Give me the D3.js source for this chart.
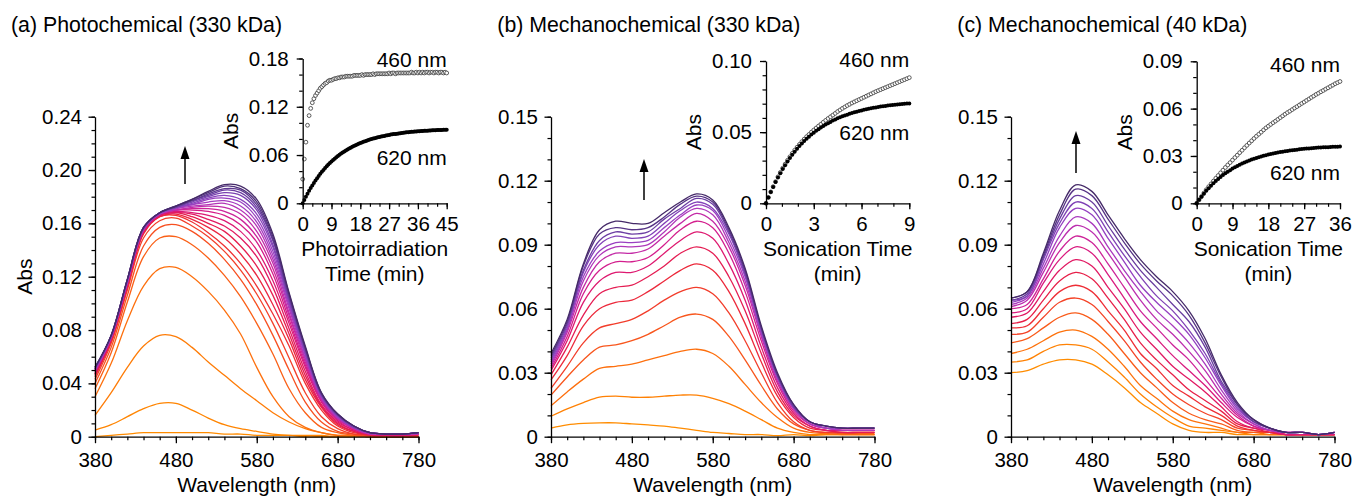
<!DOCTYPE html>
<html>
<head>
<meta charset="utf-8">
<script src="https://cdn.jsdelivr.net/npm/d3@7"></script>
<style>
  body { margin: 0; background: #fff; }
  svg text { font-family: "Liberation Sans", Arial, sans-serif; fill: #000; }
</style>
</head>
<body>
<div id="main"></div>
<script>
// wavelength grid shared by all spectra (nm)
const wavelengths = [380,400,420,440,460,480,500,520,540,560,580,600,620,640,660,680,700,720,740,760,780];

// (a) photochemical, 330 kDa - one row per spectrum, first = earliest
const specA = [
  [0.000,0.001,0.002,0.003,0.003,0.003,0.003,0.003,0.002,0.002,0.001,0.001,0.001,0.000,0.000,0.000,0.001,0.000,0.000,0.000,0.000],
  [0.005,0.009,0.015,0.021,0.025,0.025,0.020,0.014,0.009,0.006,0.004,0.002,0.001,0.001,0.001,0.000,0.000,0.000,0.000,0.000,0.000],
  [0.016,0.033,0.052,0.068,0.076,0.075,0.067,0.056,0.046,0.036,0.027,0.018,0.011,0.006,0.003,0.001,0.001,0.000,0.000,0.000,0.000],
  [0.030,0.055,0.087,0.113,0.126,0.127,0.120,0.109,0.095,0.077,0.052,0.030,0.015,0.007,0.003,0.001,0.001,0.000,0.000,0.000,0.000],
  [0.036,0.063,0.101,0.135,0.149,0.150,0.144,0.134,0.121,0.105,0.085,0.062,0.036,0.018,0.007,0.003,0.001,0.000,0.000,0.000,0.000],
  [0.040,0.067,0.106,0.143,0.157,0.159,0.154,0.145,0.133,0.118,0.099,0.076,0.050,0.026,0.011,0.004,0.002,0.001,0.000,0.000,0.000],
  [0.043,0.070,0.110,0.149,0.162,0.164,0.158,0.150,0.139,0.125,0.107,0.085,0.059,0.033,0.015,0.006,0.002,0.001,0.001,0.000,0.000],
  [0.045,0.072,0.112,0.152,0.165,0.166,0.161,0.153,0.143,0.130,0.113,0.092,0.068,0.040,0.020,0.008,0.003,0.001,0.001,0.001,0.001],
  [0.046,0.072,0.113,0.153,0.165,0.167,0.163,0.157,0.149,0.137,0.121,0.099,0.073,0.043,0.022,0.009,0.004,0.001,0.001,0.001,0.001],
  [0.047,0.073,0.113,0.153,0.166,0.168,0.165,0.160,0.154,0.143,0.128,0.106,0.077,0.046,0.023,0.010,0.004,0.002,0.001,0.001,0.002],
  [0.047,0.073,0.114,0.154,0.166,0.168,0.167,0.163,0.158,0.149,0.135,0.112,0.081,0.049,0.024,0.011,0.005,0.002,0.001,0.001,0.002],
  [0.048,0.074,0.115,0.154,0.166,0.169,0.168,0.166,0.162,0.154,0.140,0.117,0.085,0.052,0.026,0.012,0.005,0.002,0.001,0.001,0.002],
  [0.049,0.074,0.115,0.155,0.167,0.170,0.170,0.169,0.166,0.159,0.146,0.122,0.088,0.054,0.027,0.013,0.006,0.002,0.002,0.002,0.002],
  [0.049,0.074,0.115,0.155,0.167,0.170,0.171,0.171,0.169,0.163,0.150,0.126,0.091,0.056,0.027,0.013,0.006,0.002,0.002,0.002,0.002],
  [0.049,0.075,0.116,0.155,0.167,0.170,0.172,0.173,0.172,0.167,0.154,0.130,0.093,0.058,0.028,0.014,0.006,0.002,0.002,0.002,0.002],
  [0.050,0.075,0.116,0.156,0.167,0.171,0.173,0.174,0.175,0.170,0.158,0.133,0.096,0.059,0.029,0.014,0.007,0.002,0.002,0.002,0.002],
  [0.050,0.075,0.116,0.156,0.167,0.171,0.174,0.176,0.177,0.173,0.161,0.136,0.098,0.061,0.030,0.015,0.007,0.003,0.002,0.002,0.003],
  [0.051,0.075,0.117,0.156,0.167,0.172,0.174,0.178,0.179,0.176,0.164,0.139,0.100,0.062,0.030,0.015,0.007,0.003,0.002,0.002,0.003],
  [0.051,0.075,0.117,0.156,0.168,0.172,0.175,0.179,0.181,0.178,0.167,0.142,0.101,0.063,0.031,0.016,0.007,0.003,0.002,0.002,0.003],
  [0.051,0.076,0.117,0.156,0.168,0.172,0.176,0.180,0.183,0.181,0.170,0.144,0.103,0.064,0.031,0.016,0.007,0.003,0.002,0.002,0.003],
  [0.051,0.076,0.118,0.157,0.168,0.172,0.177,0.181,0.185,0.183,0.172,0.147,0.104,0.066,0.032,0.016,0.008,0.003,0.002,0.002,0.003],
  [0.052,0.076,0.118,0.157,0.168,0.173,0.177,0.182,0.186,0.185,0.174,0.148,0.106,0.066,0.032,0.017,0.008,0.003,0.002,0.002,0.003],
  [0.052,0.076,0.118,0.157,0.168,0.173,0.178,0.183,0.188,0.186,0.176,0.150,0.107,0.067,0.033,0.017,0.008,0.003,0.002,0.002,0.003],
  [0.052,0.076,0.118,0.157,0.168,0.173,0.178,0.184,0.189,0.188,0.178,0.152,0.108,0.068,0.033,0.017,0.008,0.003,0.002,0.002,0.003]
];

// (b) mechanochemical, 330 kDa
const specB = [
  [0.004,0.0055,0.0062,0.0065,0.0065,0.006,0.0055,0.005,0.004,0.003,0.002,0.0015,0.001,0.001,0.0005,0.001,0.0005,0.001,0.001,0.001,0.001],
  [0.0096,0.013,0.016,0.0185,0.019,0.0185,0.0185,0.019,0.0195,0.0195,0.018,0.0155,0.012,0.008,0.004,0.002,0.001,0.001,0.001,0.001,0.001],
  [0.0145,0.021,0.027,0.032,0.033,0.034,0.036,0.038,0.040,0.041,0.039,0.033,0.0245,0.016,0.009,0.004,0.002,0.0015,0.001,0.001,0.001],
  [0.0195,0.028,0.036,0.042,0.043,0.045,0.048,0.052,0.056,0.0575,0.055,0.047,0.036,0.024,0.013,0.006,0.003,0.002,0.0015,0.0015,0.0015],
  [0.0227,0.033,0.044,0.051,0.053,0.055,0.059,0.064,0.068,0.070,0.067,0.058,0.045,0.030,0.016,0.007,0.003,0.002,0.002,0.002,0.002],
  [0.0266,0.038,0.052,0.060,0.063,0.064,0.068,0.073,0.078,0.081,0.078,0.068,0.053,0.035,0.019,0.009,0.004,0.003,0.002,0.002,0.002],
  [0.029,0.042,0.057,0.067,0.070,0.071,0.075,0.080,0.086,0.089,0.086,0.075,0.059,0.039,0.021,0.010,0.005,0.003,0.002,0.002,0.002],
  [0.031,0.045,0.063,0.073,0.077,0.077,0.080,0.086,0.092,0.096,0.093,0.081,0.064,0.042,0.023,0.011,0.005,0.003,0.003,0.003,0.003],
  [0.032,0.047,0.067,0.078,0.082,0.082,0.084,0.090,0.097,0.101,0.098,0.086,0.068,0.045,0.025,0.012,0.006,0.004,0.003,0.003,0.003],
  [0.033,0.049,0.070,0.082,0.086,0.086,0.088,0.094,0.100,0.1047,0.101,0.089,0.071,0.047,0.026,0.013,0.006,0.004,0.003,0.003,0.003],
  [0.034,0.050,0.073,0.085,0.089,0.089,0.090,0.096,0.103,0.107,0.104,0.091,0.073,0.048,0.027,0.013,0.006,0.004,0.003,0.003,0.003],
  [0.035,0.051,0.075,0.087,0.091,0.091,0.092,0.098,0.104,0.1086,0.106,0.093,0.075,0.049,0.028,0.014,0.007,0.004,0.004,0.004,0.004],
  [0.036,0.052,0.077,0.090,0.094,0.093,0.094,0.100,0.106,0.110,0.107,0.095,0.076,0.050,0.028,0.014,0.007,0.005,0.004,0.004,0.004],
  [0.037,0.053,0.078,0.092,0.096,0.095,0.096,0.102,0.107,0.1117,0.109,0.096,0.077,0.051,0.029,0.014,0.007,0.005,0.004,0.004,0.004],
  [0.038,0.054,0.080,0.095,0.098,0.097,0.098,0.103,0.109,0.1128,0.110,0.097,0.078,0.051,0.029,0.015,0.007,0.005,0.004,0.004,0.004],
  [0.039,0.055,0.081,0.097,0.101,0.100,0.100,0.105,0.110,0.1138,0.111,0.098,0.079,0.052,0.030,0.015,0.007,0.005,0.004,0.004,0.004]
];

// (c) mechanochemical, 40 kDa
const specC = [
  [0.030,0.031,0.034,0.036,0.036,0.034,0.029,0.023,0.016,0.011,0.006,0.003,0.002,0.002,0.001,0.001,0.001,0.001,0.001,0.001,0.001],
  [0.035,0.036,0.040,0.043,0.043,0.041,0.035,0.028,0.020,0.014,0.009,0.005,0.004,0.003,0.002,0.001,0.001,0.001,0.001,0.001,0.001],
  [0.039,0.041,0.045,0.049,0.050,0.047,0.041,0.033,0.024,0.018,0.012,0.008,0.006,0.004,0.002,0.002,0.001,0.001,0.001,0.001,0.001],
  [0.044,0.046,0.051,0.056,0.058,0.055,0.048,0.039,0.030,0.023,0.016,0.011,0.008,0.006,0.003,0.002,0.002,0.001,0.001,0.001,0.001],
  [0.048,0.049,0.056,0.063,0.065,0.062,0.054,0.045,0.035,0.027,0.020,0.015,0.011,0.008,0.004,0.003,0.002,0.001,0.001,0.001,0.001],
  [0.051,0.052,0.060,0.068,0.071,0.068,0.059,0.050,0.039,0.032,0.024,0.019,0.014,0.010,0.005,0.003,0.002,0.001,0.001,0.001,0.001],
  [0.053,0.055,0.064,0.073,0.077,0.074,0.065,0.055,0.044,0.036,0.029,0.022,0.017,0.012,0.006,0.004,0.002,0.001,0.001,0.001,0.001],
  [0.056,0.058,0.068,0.078,0.083,0.080,0.070,0.060,0.049,0.041,0.033,0.027,0.021,0.014,0.007,0.004,0.003,0.001,0.001,0.001,0.001],
  [0.058,0.060,0.072,0.083,0.089,0.086,0.076,0.065,0.054,0.046,0.038,0.031,0.024,0.016,0.009,0.005,0.003,0.001,0.001,0.001,0.001],
  [0.060,0.062,0.074,0.087,0.094,0.091,0.081,0.070,0.059,0.051,0.043,0.036,0.027,0.018,0.010,0.005,0.003,0.002,0.002,0.001,0.002],
  [0.061,0.064,0.077,0.091,0.099,0.096,0.086,0.075,0.064,0.055,0.048,0.040,0.031,0.020,0.011,0.006,0.003,0.002,0.002,0.001,0.002],
  [0.062,0.065,0.079,0.094,0.103,0.100,0.089,0.078,0.068,0.059,0.052,0.044,0.034,0.022,0.012,0.006,0.003,0.002,0.002,0.001,0.002],
  [0.063,0.066,0.081,0.098,0.107,0.104,0.093,0.082,0.071,0.063,0.056,0.048,0.037,0.024,0.013,0.007,0.004,0.002,0.002,0.001,0.002],
  [0.064,0.066,0.083,0.100,0.110,0.107,0.096,0.085,0.075,0.066,0.059,0.050,0.039,0.025,0.014,0.007,0.004,0.002,0.002,0.001,0.002],
  [0.064,0.067,0.084,0.102,0.113,0.110,0.099,0.088,0.078,0.070,0.062,0.054,0.042,0.026,0.015,0.007,0.004,0.002,0.002,0.001,0.002],
  [0.065,0.068,0.085,0.104,0.116,0.113,0.102,0.091,0.081,0.073,0.066,0.057,0.044,0.028,0.015,0.008,0.004,0.002,0.002,0.001,0.002],
  [0.065,0.068,0.086,0.106,0.118,0.115,0.104,0.093,0.083,0.075,0.068,0.059,0.046,0.029,0.016,0.008,0.004,0.002,0.002,0.001,0.002]
];

// insets: absorbance vs time, sampled every stepX minutes
const stepA = 0.5;
const abs460A = [0.030,0.055,0.076,0.097,0.109,0.118,0.125,0.130,0.134,0.137,
  0.140,0.143,0.145,0.147,0.149,0.150,0.152,0.153,0.153,0.154,
  0.155,0.155,0.156,0.156,0.157,0.157,0.157,0.158,0.158,0.158,
  0.158,0.158,0.159,0.159,0.159,0.159,0.159,0.160,0.159,0.160,
  0.160,0.160,0.160,0.160,0.161,0.160,0.161,0.161,0.161,0.161,
  0.161,0.161,0.161,0.161,0.162,0.161,0.162,0.162,0.161,0.162,
  0.162,0.162,0.162,0.162,0.162,0.162,0.162,0.162,0.163,0.162,
  0.162,0.163,0.162,0.163,0.162,0.163,0.162,0.163,0.163,0.162,
  0.163,0.163,0.162,0.163,0.163,0.162,0.163,0.163,0.162,0.163,0.162];
const abs620A = [0,0.0041,0.0081,0.0119,0.0155,0.0189,0.0222,0.0253,0.0283,0.0312,
  0.0340,0.0366,0.0391,0.0415,0.0438,0.0460,0.0481,0.0501,0.0520,0.0538,
  0.0555,0.0572,0.0588,0.0603,0.0618,0.0631,0.0645,0.0657,0.0669,0.0681,
  0.0692,0.0703,0.0713,0.0722,0.0732,0.0740,0.0749,0.0757,0.0765,0.0772,
  0.0779,0.0786,0.0792,0.0798,0.0804,0.0810,0.0815,0.0820,0.0825,0.0830,
  0.0834,0.0838,0.0842,0.0846,0.0850,0.0854,0.0857,0.0860,0.0863,0.0866,
  0.0869,0.0872,0.0874,0.0877,0.0879,0.0882,0.0884,0.0886,0.0888,0.0890,
  0.0891,0.0893,0.0895,0.0896,0.0898,0.0899,0.0901,0.0902,0.0903,0.0904,
  0.0905,0.0907,0.0908,0.0909,0.0910,0.0910,0.0911,0.0912,0.0913,0.0914,0.0914];

const stepB = 0.15;
const abs460B = [0,0.0041,0.0080,0.0117,0.0152,0.0186,0.0217,0.0247,0.0275,0.0302,
  0.0327,0.0351,0.0373,0.0394,0.0414,0.0433,0.0451,0.0468,0.0484,0.0500,
  0.0515,0.0529,0.0543,0.0556,0.0570,0.0583,0.0596,0.0608,0.0620,0.0632,
  0.0645,0.0656,0.0667,0.0677,0.0687,0.0696,0.0705,0.0713,0.0721,0.0729,
  0.0737,0.0745,0.0753,0.0761,0.0769,0.0777,0.0785,0.0792,0.0799,0.0806,
  0.0813,0.0820,0.0827,0.0834,0.0841,0.0848,0.0855,0.0862,0.0869,0.0876,0.0883];
const abs620B = [0,0.0041,0.0079,0.0115,0.0149,0.0182,0.0212,0.0241,0.0268,0.0294,
  0.0318,0.0341,0.0362,0.0383,0.0402,0.0420,0.0437,0.0453,0.0468,0.0483,
  0.0496,0.0509,0.0521,0.0533,0.0543,0.0554,0.0563,0.0572,0.0581,0.0589,
  0.0597,0.0604,0.0611,0.0617,0.0623,0.0629,0.0634,0.0639,0.0644,0.0649,
  0.0653,0.0657,0.0661,0.0664,0.0668,0.0671,0.0674,0.0677,0.0680,0.0682,
  0.0684,0.0687,0.0689,0.0691,0.0693,0.0695,0.0696,0.0698,0.0699,0.0701,0.0702];

const stepC = 0.6;
const abs460C = [0,0.0022,0.0043,0.0065,0.0086,0.0105,0.0123,0.0141,0.0159,0.0176,
  0.0193,0.0210,0.0227,0.0243,0.0258,0.0274,0.0290,0.0305,0.0321,0.0336,
  0.0352,0.0367,0.0382,0.0396,0.0411,0.0425,0.0438,0.0451,0.0465,0.0478,
  0.0489,0.0500,0.0511,0.0521,0.0532,0.0543,0.0554,0.0565,0.0575,0.0584,
  0.0594,0.0604,0.0613,0.0623,0.0633,0.0642,0.0652,0.0661,0.0671,0.0680,
  0.0690,0.0698,0.0707,0.0715,0.0724,0.0732,0.0741,0.0749,0.0758,0.0765,0.0772];
const abs620C = [0,0.0022,0.0042,0.0061,0.0079,0.0096,0.0112,0.0127,0.0141,0.0154,
  0.0167,0.0179,0.0190,0.0200,0.0210,0.0220,0.0228,0.0237,0.0244,0.0252,
  0.0259,0.0265,0.0271,0.0277,0.0282,0.0287,0.0292,0.0297,0.0301,0.0305,
  0.0309,0.0312,0.0316,0.0319,0.0322,0.0325,0.0327,0.0330,0.0332,0.0334,
  0.0336,0.0338,0.0340,0.0342,0.0344,0.0345,0.0347,0.0348,0.0349,0.0350,
  0.0352,0.0353,0.0354,0.0355,0.0356,0.0356,0.0357,0.0358,0.0359,0.0359,0.0360];

// tick labels
const xTicksMain = [380,480,580,680,780];
const yTicksA = [0,0.04,0.08,0.12,0.16,0.20,0.24];
const yTicksBC = [0,0.03,0.06,0.09,0.12,0.15];
const insetXTicksA = [0,9,18,27,36,45];
const insetYTicksA = [0,0.06,0.12,0.18];
const insetXTicksB = [0,3,6,9];
const insetYTicksB = [0,0.05,0.10];
const insetXTicksC = [0,9,18,27,36];
const insetYTicksC = [0,0.03,0.06,0.09];

const titles = ["(a) Photochemical (330 kDa)", "(b) Mechanochemical (330 kDa)", "(c) Mechanochemical (40 kDa)"];

// orange -> red -> magenta -> purple -> dark violet
const palette = ["#ff8c00","#ff7d05","#f9561e","#ef2f30","#e51a50","#db1680","#c52aa8","#a53ec6","#8446be","#5f3a96","#452a68"];

const ctx = {
  SVG_W: 1355,
  SVG_H: 497,
  plotTop: 116.7,
  plotBot: 436.7,
  insetBot: 203.3,
  tickFont: 20.5,
  labelFont: 21,
};

const panels = [
  { title: titles[0], tx: 11, x0: 95, spec: specA, yMax: 0.24, yTicks: yTicksA, yMinorStep: 0.01, abs: true,
    arrow: [185, 184, 146],
    inset: { x0: 302.7, x1: 446.7, yTop: 58.5, xMax: 45, yMax: 0.18, xTicks: insetXTicksA, yTicks: insetYTicksA,
             xMinorStep: 3, yMinorStep: 0.02, step: stepA, s460: abs460A, s620: abs620A,
             lab460: 66.5, lab620: 165, xlab: ["Photoirradiation", "Time (min)"] } },
  { title: titles[1], tx: 497.3, x0: 551, spec: specB, yMax: 0.15, yTicks: yTicksBC, yMinorStep: 0.01, abs: false,
    arrow: [644, 200, 159],
    inset: { x0: 766, x1: 909.3, yTop: 61, xMax: 9, yMax: 0.10, xTicks: insetXTicksB, yTicks: insetYTicksB,
             xMinorStep: 1, yMinorStep: 0.01, step: stepB, s460: abs460B, s620: abs620B,
             lab460: 66.7, lab620: 140, xlab: ["Sonication Time", "(min)"] } },
  { title: titles[2], tx: 957.3, x0: 1011, spec: specC, yMax: 0.15, yTicks: yTicksBC, yMinorStep: 0.01, abs: false,
    arrow: [1076, 173, 131],
    inset: { x0: 1196.7, x1: 1340, yTop: 61.3, xMax: 36, yMax: 0.09, xTicks: insetXTicksC, yTicks: insetYTicksC,
             xMinorStep: 3, yMinorStep: 0.01, step: stepC, s460: abs460C, s620: abs620C,
             lab460: 71.7, lab620: 180, xlab: ["Sonication Time", "(min)"] } },
];

const fmtAbs = d => d === 0 ? "0" : d3.format(".2f")(d);

function styleAxis(sel, fontSize) {
  sel.select(".domain").attr("stroke", "#000").attr("stroke-width", 1.3);
  sel.selectAll(".tick line").attr("stroke", "#000").attr("stroke-width", 1.3);
  sel.selectAll(".tick text").attr("font-size", fontSize).attr("fill", "#000")
    .attr("font-family", "Liberation Sans, Arial, sans-serif");
}

function drawAxes(g, x, y, o) {
  const yb = y.range()[0], xl = x.range()[0];
  const [xa, xb] = x.domain(), [ya, yz] = y.domain();

  // minor ticks first, under the major ones
  g.append("g").attr("transform", `translate(0,${yb})`)
    .call(d3.axisBottom(x).tickValues(d3.range(xa, xb + 1e-9, o.xMinorStep)).tickSize(o.minor).tickFormat(""))
    .call(s => { s.select(".domain").remove(); s.selectAll("line").attr("stroke", "#000").attr("stroke-width", 1.2); });
  g.append("g").attr("transform", `translate(${xl},0)`)
    .call(d3.axisLeft(y).tickValues(d3.range(ya, yz + 1e-9, o.yMinorStep)).tickSize(o.minor).tickFormat(""))
    .call(s => { s.select(".domain").remove(); s.selectAll("line").attr("stroke", "#000").attr("stroke-width", 1.2); });

  g.append("g").attr("transform", `translate(0,${yb})`)
    .call(d3.axisBottom(x).tickValues(o.xTicks).tickSize(o.major).tickSizeOuter(0).tickPadding(o.xPad).tickFormat(o.xFmt))
    .call(s => styleAxis(s, ctx.tickFont));
  g.append("g").attr("transform", `translate(${xl},0)`)
    .call(d3.axisLeft(y).tickValues(o.yTicks).tickSize(o.major).tickSizeOuter(0).tickPadding(o.yPad).tickFormat(fmtAbs))
    .call(s => styleAxis(s, ctx.tickFont));
}

function drawPanel(svgEl, p) {
  const g = svgEl.append("g");
  const x = d3.scaleLinear().domain([380, 780]).range([p.x0, p.x0 + 323.5]);
  const y = d3.scaleLinear().domain([0, p.yMax]).range([ctx.plotBot, ctx.plotTop]);

  const color = d3.interpolateRgbBasis(palette);
  const n = p.spec.length;
  const line = d3.line()
    .x((d, i) => x(wavelengths[i]))
    .y(d => y(d))
    .curve(d3.curveCatmullRom.alpha(0.5));

  g.append("g").selectAll("path")
    .data(p.spec)
    .enter()
    .append("path")
    .attr("d", line)
    .attr("fill", "none")
    .attr("stroke", (d, i) => color(i / (n - 1)))
    .attr("stroke-width", 1.3);

  drawAxes(g, x, y, { xTicks: xTicksMain, yTicks: p.yTicks, xMinorStep: 20, yMinorStep: p.yMinorStep,
                      major: 6.5, minor: 3.5, xPad: 9, yPad: 6.5, xFmt: d3.format("d") });

  g.append("text")
    .attr("x", p.x0 + 161.75).attr("y", 492)
    .attr("text-anchor", "middle").attr("font-size", ctx.labelFont)
    .text("Wavelength (nm)");

  if (p.abs) {
    g.append("text")
      .attr("transform", `translate(${p.x0 - 63.5},${(ctx.plotTop + ctx.plotBot) / 2}) rotate(-90)`)
      .attr("text-anchor", "middle").attr("font-size", ctx.labelFont)
      .text("Abs");
  }

  g.append("text")
    .attr("x", p.tx).attr("y", 31.7)
    .attr("font-size", 21.3)
    .text(p.title);

  // growth arrow
  const [ax, ay0, ay1] = p.arrow;
  g.append("line")
    .attr("x1", ax).attr("x2", ax).attr("y1", ay0).attr("y2", ay1 + 10)
    .attr("stroke", "#000").attr("stroke-width", 1.5);
  g.append("path")
    .attr("d", `M${ax},${ay1} L${ax - 4.5},${ay1 + 13} L${ax + 4.5},${ay1 + 13} Z`)
    .attr("fill", "#000");

  drawInset(g, p.inset);
}

function drawInset(g, o) {
  const x = d3.scaleLinear().domain([0, o.xMax]).range([o.x0, o.x1]);
  const y = d3.scaleLinear().domain([0, o.yMax]).range([ctx.insetBot, o.yTop]);

  g.append("g").selectAll("circle")
    .data(o.s460)
    .enter()
    .append("circle")
    .attr("cx", (d, i) => x(i * o.step))
    .attr("cy", d => y(d))
    .attr("r", 1.9)
    .attr("fill", "#fff")
    .attr("stroke", "#333")
    .attr("stroke-width", 0.8);

  g.append("g").selectAll("circle")
    .data(o.s620)
    .enter()
    .append("circle")
    .attr("cx", (d, i) => x(i * o.step))
    .attr("cy", d => y(d))
    .attr("r", 2)
    .attr("fill", "#000");

  drawAxes(g, x, y, { xTicks: o.xTicks, yTicks: o.yTicks, xMinorStep: o.xMinorStep, yMinorStep: o.yMinorStep,
                      major: 6, minor: 3.5, xPad: 7, yPad: 8, xFmt: d3.format("d") });

  g.append("text").attr("x", o.x1).attr("y", o.lab460)
    .attr("text-anchor", "end").attr("font-size", ctx.labelFont).text("460 nm");
  g.append("text").attr("x", o.x1).attr("y", o.lab620)
    .attr("text-anchor", "end").attr("font-size", ctx.labelFont).text("620 nm");

  const cx = (o.x0 + o.x1) / 2;
  g.append("text").attr("x", cx).attr("y", 255.5)
    .attr("text-anchor", "middle").attr("font-size", ctx.labelFont).text(o.xlab[0]);
  g.append("text").attr("x", cx).attr("y", 281)
    .attr("text-anchor", "middle").attr("font-size", ctx.labelFont).text(o.xlab[1]);

  g.append("text")
    .attr("transform", `translate(${o.x0 - 65},${(ctx.insetBot + o.yTop) / 2}) rotate(-90)`)
    .attr("text-anchor", "middle").attr("font-size", ctx.labelFont)
    .text("Abs");
}

function createViz() {
  const svgEl = d3.select("#main").append("svg")
    .attr("width", ctx.SVG_W)
    .attr("height", ctx.SVG_H)
    .style("display", "block")
    .style("background", "#fff");
  panels.forEach(p => drawPanel(svgEl, p));
}

createViz();
</script>
</body>
</html>
